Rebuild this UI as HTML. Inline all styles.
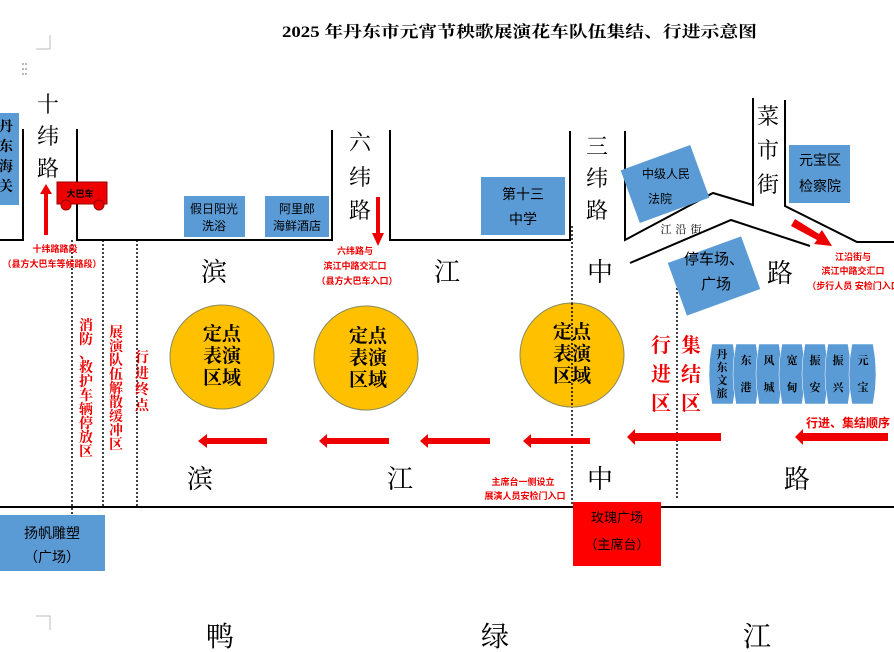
<!DOCTYPE html>
<html><head><meta charset="utf-8"><style>
html,body{margin:0;padding:0;background:#fff;}
svg{display:block;}
.s{font-family:"Liberation Serif","Noto Serif CJK SC",serif;}
.h{font-family:"Liberation Sans","Noto Sans CJK SC",sans-serif;}
</style></head><body>
<svg width="894" height="652" viewBox="0 0 894 652" xmlns="http://www.w3.org/2000/svg">
<!-- title -->
<text x="282" y="37" class="s" font-size="16" font-weight="bold" textLength="475" lengthAdjust="spacingAndGlyphs">2025 年丹东市元宵节秧歌展演花车队伍集结、行进示意图</text>
<!-- corner marks -->
<path d="M50,35 V49 H36" fill="none" stroke="#bbb" stroke-width="1"/>
<path d="M36,616 H50 V630" fill="none" stroke="#bbb" stroke-width="1"/>
<g fill="#888"><circle cx="23" cy="64" r="0.9"/><circle cx="26" cy="64" r="0.9"/><circle cx="23" cy="69" r="0.9"/><circle cx="26" cy="69" r="0.9"/><circle cx="23" cy="74" r="0.9"/><circle cx="26" cy="74" r="0.9"/></g>

<!-- roads -->
<g fill="none" stroke="#000" stroke-width="2">
<path d="M0,240 H23 V129"/>
<path d="M77,129 V240 H332 V130"/>
<path d="M390,130 V240 H570 V131"/>
<path d="M625,131 V240 L713,193 L753,205 V98"/>
<path d="M785,100 V206 L857,242 H894"/>
<path d="M630,263 L731,220 L810,246"/>
<path d="M0,507 H894"/>
</g>
<!-- dotted lines -->
<g stroke="#000" stroke-width="1.5" stroke-dasharray="2,2">
<line x1="72" y1="240" x2="72" y2="515"/>
<line x1="103" y1="240" x2="103" y2="507"/>
<line x1="137" y1="240" x2="137" y2="507"/>
<line x1="572" y1="226" x2="572" y2="505"/>
<line x1="677" y1="268" x2="677" y2="500"/>
</g>

<!-- blue boxes -->
<g fill="#5b9bd5">
<rect x="0" y="113" width="19" height="92"/>
<rect x="184" y="196" width="61" height="41"/>
<rect x="265" y="196" width="64" height="41"/>
<rect x="481" y="177" width="84" height="58"/>
<rect x="789" y="145" width="61" height="58"/>
<rect x="0" y="515" width="105" height="56"/>
<rect x="628" y="156" width="74" height="56" transform="rotate(-20 665 184)"/>
<rect x="675" y="248" width="78" height="56" transform="rotate(-20 714 276)"/>
</g>
<g class="h" font-size="12" fill="#000" text-anchor="middle">
<text x="214" y="213">假日阳光</text><text x="214" y="230">洗浴</text>
<text x="297" y="213">阿里郎</text><text x="297" y="230">海鲜酒店</text>
<text x="523" y="199" font-size="14">第十三</text><text x="523" y="224" font-size="14">中学</text>
<text x="820" y="165" font-size="14">元宝区</text><text x="820" y="191" font-size="14">检察院</text>
<text x="52" y="538" font-size="14">扬帆雕塑</text><text x="52" y="562" font-size="14">（广场）</text>
<text x="666" y="178">中级人民</text><text x="660" y="203">法院</text>
<text x="714" y="264" font-size="15">停车场、</text><text x="716" y="289" font-size="15">广场</text>
</g>
<g class="s" font-size="14" font-weight="bold" fill="#000" text-anchor="middle">
<text x="6" y="131">丹</text><text x="6" y="151">东</text><text x="6" y="171">海</text><text x="6" y="191">关</text>
</g>
<text x="683" y="233" class="s" font-size="11" text-anchor="middle" letter-spacing="4">江沿街</text>

<!-- road name verticals -->
<g class="s" font-size="22" fill="#000" text-anchor="middle">
<text x="48" y="112">十</text><text x="48" y="144">纬</text><text x="48" y="176">路</text>
<text x="360" y="150">六</text><text x="360" y="185">纬</text><text x="360" y="218">路</text>
<text x="597" y="154">三</text><text x="597" y="186">纬</text><text x="597" y="218">路</text>
<text x="768" y="124">菜</text><text x="768" y="158">市</text><text x="768" y="192">街</text>
</g>
<g class="s" font-size="26" fill="#000" text-anchor="middle">
<text x="214" y="281">滨</text><text x="447" y="281">江</text><text x="600" y="281">中</text><text x="780" y="282">路</text>
<text x="200" y="488">滨</text><text x="400" y="488">江</text><text x="600" y="488">中</text><text x="797" y="488">路</text>
<text x="220" y="646" font-size="28">鸭</text><text x="495" y="646" font-size="28">绿</text><text x="757" y="646" font-size="28">江</text>
</g>

<!-- bus -->
<rect x="57" y="182" width="50" height="22" fill="#e00" stroke="#900" stroke-width="1"/>
<circle cx="66" cy="205" r="5" fill="#e00" stroke="#900"/><circle cx="99" cy="205" r="5" fill="#e00" stroke="#900"/>
<text x="80" y="197" class="h" font-size="9" font-weight="bold" text-anchor="middle" fill="#000">大巴车</text>
<!-- arrows -->
<path d="M44,235 V194 H40 L46,184 L52,194 H48 V235z" fill="#e00"/>
<path d="M376,197 V233 H372 L378,246 L384,233 H380 V197z" fill="#e00"/>
<path d="M795,219 L819,234 L822,230 L832,246 L814,244 L817,240 L791,226z" fill="#e00"/>
<g fill="#e00">
<path d="M267,438 H207 V434 L198,441 L207,448 V444 H267z"/>
<path d="M389,438 H327 V434 L319,441 L327,448 V444 H389z"/>
<path d="M490,438 H428 V434 L420,441 L428,448 V444 H490z"/>
<path d="M590,438 H531 V434 L523,441 L531,448 V444 H590z"/>
<path d="M721,433 H635 V429 L627,437 L635,445 V441 H721z"/>
<path d="M888,433 H803 V429 L795,437 L803,445 V441 H888z"/>
</g>

<!-- red labels -->
<g class="h" font-size="9" font-weight="bold" fill="#e00" text-anchor="middle">
<text x="55" y="252">十纬路路段</text><text x="52" y="267">（县方大巴车等候路段）</text>
<text x="355" y="254">六纬路与</text><text x="355" y="269">滨江中路交汇口</text><text x="357" y="284">（县方大巴车入口）</text>
<text x="853" y="260">江沿街与</text><text x="853" y="274">滨江中路交汇口</text><text x="858" y="289">（步行人员 安检门入口）</text>
<text x="523" y="485">主席台一侧设立</text><text x="525" y="499">展演人员安检门入口</text>
</g>
<text x="890" y="427" class="h" font-size="12" font-weight="bold" fill="#e00" text-anchor="end">行进、集结顺序</text>
<g class="s" font-size="14" font-weight="bold" fill="#e00" text-anchor="middle">
<text x="86" y="330">消</text><text x="86" y="344">防</text><text x="86" y="358">、</text><text x="86" y="372">救</text><text x="86" y="386">护</text><text x="86" y="400">车</text><text x="86" y="414">辆</text><text x="86" y="428">停</text><text x="86" y="442">放</text><text x="86" y="456">区</text>
<text x="116" y="337">展</text><text x="116" y="351">演</text><text x="116" y="365">队</text><text x="116" y="379">伍</text><text x="116" y="393">解</text><text x="116" y="407">散</text><text x="116" y="421">缓</text><text x="116" y="435">冲</text><text x="116" y="449">区</text>
<text x="142" y="362">行</text><text x="142" y="378">进</text><text x="142" y="394">终</text><text x="142" y="410">点</text>
</g>
<g class="s" font-size="20" font-weight="bold" fill="#e00" text-anchor="middle">
<text x="661" y="352">行</text><text x="661" y="381">进</text><text x="661" y="410">区</text>
<text x="691" y="352">集</text><text x="691" y="381">结</text><text x="691" y="410">区</text>
</g>

<!-- circles -->
<g fill="#ffc000" stroke="#8a8a5a" stroke-width="1">
<circle cx="222" cy="357" r="52"/><circle cx="366" cy="358" r="52"/><circle cx="572" cy="355" r="52"/>
</g>
<line x1="572" y1="303" x2="572" y2="407" stroke="#000" stroke-width="1.5" stroke-dasharray="2,2"/>
<g class="s" font-size="19" font-weight="bold" fill="#000" text-anchor="middle">
<text x="222" y="340">定点</text><text x="222" y="362">表演</text><text x="222" y="384">区域</text>
<text x="368" y="342">定点</text><text x="368" y="364">表演</text><text x="368" y="386">区域</text>
<text x="572" y="338">定点</text><text x="572" y="360">表演</text><text x="572" y="382">区域</text>
</g>

<!-- team cards -->
<g fill="#5b9bd5" stroke="#fff" stroke-width="0.5">
<path d="M712,344 H733 Q739,374 733,404 H712 Q706,374 712,344z"/>
<path d="M736,344 H756 Q762,374 756,404 H736 Q730,374 736,344z"/>
<path d="M759,344 H779 Q785,374 779,404 H759 Q753,374 759,344z"/>
<path d="M782,344 H802 Q808,374 802,404 H782 Q776,374 782,344z"/>
<path d="M805,344 H825 Q831,374 825,404 H805 Q799,374 805,344z"/>
<path d="M828,344 H848 Q854,374 848,404 H828 Q822,374 828,344z"/>
<path d="M852,344 H873 Q879,374 873,404 H852 Q846,374 852,344z"/>
</g>
<g class="s" font-size="11" font-weight="bold" fill="#000" text-anchor="middle">
<text x="722" y="358">丹</text><text x="722" y="371">东</text><text x="722" y="384">文</text><text x="722" y="397">旅</text>
<text x="746" y="364">东</text><text x="746" y="391">港</text>
<text x="769" y="364">风</text><text x="769" y="391">城</text>
<text x="792" y="364">宽</text><text x="792" y="391">甸</text>
<text x="815" y="364">振</text><text x="815" y="391">安</text>
<text x="838" y="364">振</text><text x="838" y="391">兴</text>
<text x="863" y="364">元</text><text x="863" y="391">宝</text>
</g>

<!-- main stage -->
<rect x="573" y="502" width="88" height="64" fill="#f00"/>
<g class="h" font-size="13" fill="#000" text-anchor="middle">
<text x="617" y="522">玫瑰广场</text><text x="617" y="549">（主席台）</text>
</g>
</svg>
</body></html>
